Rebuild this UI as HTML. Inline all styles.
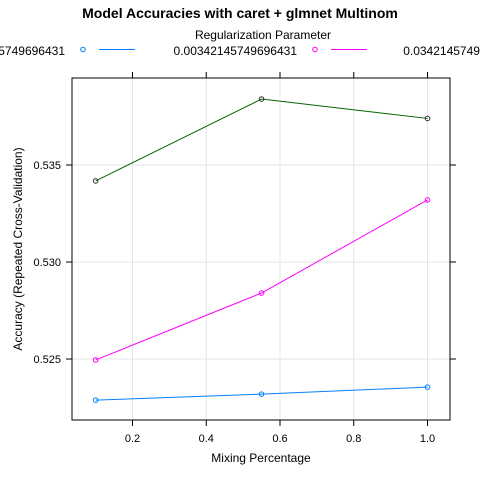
<!DOCTYPE html>
<html><head><meta charset="utf-8"><style>
body{margin:0;background:#fff}
svg{display:block;font-family:"Liberation Sans",Arial,sans-serif}
</style></head><body>
<svg id="chart" width="480" height="480">
<text x="240" y="18" text-anchor="middle" font-weight="bold" font-size="14">Model Accuracies with caret + glmnet Multinom</text>
<text x="263" y="39" text-anchor="middle" font-size="12">Regularization Parameter</text>
<g id="legend"></g>
<g id="grid"></g>
<rect x="72" y="78" width="378" height="342" fill="none" stroke="#000"/>
<g id="axes"></g>
<g id="series"></g>
<text x="261" y="462" text-anchor="middle" font-size="12">Mixing Percentage</text>
<text transform="translate(22,249) rotate(-90)" text-anchor="middle" font-size="12">Accuracy (Repeated Cross-Validation)</text>
</svg>
<script>
const alphas=[0.1,0.55,1.0];
const lambdaLabels=["0.000342145749696431","0.00342145749696431","0.0342145749696431"];
const accLow=[0.52288,0.52319,0.52355];
const accMid=[0.52495,0.52840,0.53320];
const accHigh=[0.53418,0.53840,0.53740];
const xTicks=[0.2,0.4,0.6,0.8,1.0];
const yTicks=[0.525,0.530,0.535];
const colors=["#0080ff","#ff00ff","#006400"];
const ptColors=["#0080ff","#ff00ff","#333333"];
const NS="http://www.w3.org/2000/svg";
function X(v){return 58.75+(v)*368.75;}
function Y(v){return 262-(v-0.530)/0.005*97;}
function mk(p,t,a){const e=document.createElementNS(NS,t);for(const k in a)e.setAttribute(k,a[k]);p.appendChild(e);return e;}
const grid=document.getElementById('grid'),axes=document.getElementById('axes'),ser=document.getElementById('series'),leg=document.getElementById('legend');
xTicks.forEach(t=>{const x=X(t);
 const g=mk(grid,'line',{x1:x,x2:x,y1:78,y2:420,stroke:'#e6e6e6'});
 
 mk(axes,'line',{x1:x,x2:x,y1:420,y2:426,stroke:'#000'});
 mk(axes,'line',{x1:x,x2:x,y1:72,y2:78,stroke:'#000'});
 const tx=mk(axes,'text',{x:x,y:442,'text-anchor':'middle','font-size':'11'});tx.textContent=t.toFixed(1);
 
});
yTicks.forEach(t=>{const y=Y(t);
 const g=mk(grid,'line',{x1:72,x2:450,y1:y,y2:y,stroke:'#e6e6e6'});
 
 mk(axes,'line',{x1:66,x2:72,y1:y,y2:y,stroke:'#000'});
 mk(axes,'line',{x1:450,x2:456,y1:y,y2:y,stroke:'#000'});
 const tx=mk(axes,'text',{x:61,y:y+4,'text-anchor':'end','font-size':'11'});tx.textContent=t.toFixed(3);
 
});
[accLow,accMid,accHigh].forEach((s,i)=>{
 const pl=mk(ser,'polyline',{points:s.map((v,j)=>X(alphas[j])+','+Y(v)).join(' '),fill:'none',stroke:colors[i],'stroke-width':1});
 
 s.forEach((v,j)=>{const c=mk(ser,'circle',{cx:X(alphas[j]),cy:Y(v),r:2.3,fill:'none',stroke:ptColors[i]});
  });
});
const legX=[65,297,520];
lambdaLabels.forEach((l,i)=>{const x0=legX[i];
 const t=mk(leg,'text',{x:x0,y:55,'text-anchor':'end','font-size':'12'});t.textContent=l;
 
 mk(leg,'circle',{cx:x0+18,cy:49.5,r:2.3,fill:'none',stroke:ptColors[i]});
 mk(leg,'rect',{x:x0+34,y:49,width:36,height:1,fill:colors[i]});
});
</script>
</body></html>
